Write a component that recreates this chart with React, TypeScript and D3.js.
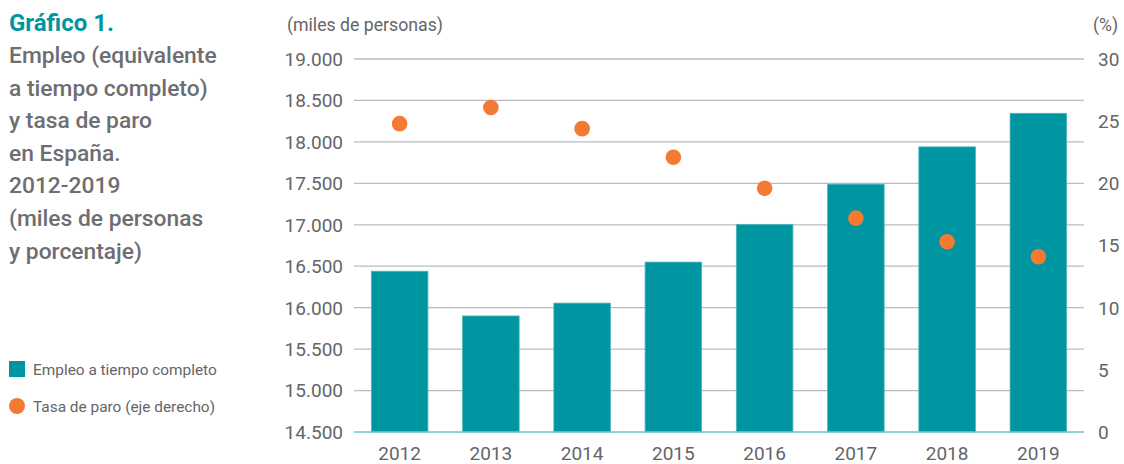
import * as d3 from 'd3'

const YEARS = ['2012', '2013', '2014', '2015', '2016', '2017', '2018', '2019']
const EMPLEO = [16440, 15900, 16055, 16550, 17005, 17490, 17940, 18345]
const TASA_PARO = [24.8, 26.1, 24.4, 22.1, 19.6, 17.2, 15.3, 14.1]
const LEFT_TICKS = [14500, 15000, 15500, 16000, 16500, 17000, 17500, 18000, 18500, 19000]
const RIGHT_TICKS = [0, 5, 10, 15, 20, 25, 30]
const TITLE_LINES = [
  'Empleo (equivalente',
  'a tiempo completo)',
  'y tasa de paro',
  'en España.',
  '2012-2019',
  '(miles de personas',
  'y porcentaje)',
]

const W = 1124
const H = 464
const PLOT = { left: 354, right: 1084, top: 59, bottom: 432 }
const TEAL = '#0096A1'
const ORANGE = '#F37A33'
const GRAY = '#646568'
const TITLE_GRAY = '#6d6e71'
const FONT = 'Roboto, "Liberation Sans", sans-serif'

const fmtLeft = (v: number) => d3.format(',')(v).replace(/,/g, '.')

export default function App() {
  const x = d3.scaleBand<string>()
    .domain(YEARS)
    .range([PLOT.left, PLOT.right])
    .paddingInner(0.38)
    .paddingOuter(0.19)
  const yL = d3.scaleLinear([14500, 19000], [PLOT.bottom, PLOT.top])
  const yR = d3.scaleLinear([0, 30], [PLOT.bottom, PLOT.top])

  return (
    <svg width={W} height={H} style={{ position: 'absolute', left: 0, top: 0, fontFamily: FONT }}>
      {/* ── Title block ── */}
      <text x={9} y={31} fill={TEAL} fontSize={24} fontWeight={700}>Gráfico 1.</text>
      {TITLE_LINES.map((t, i) => (
        <text key={t} x={9} y={63 + i * 32.6} fill={TITLE_GRAY} fontSize={22.8} fontWeight={500}>{t}</text>
      ))}

      {/* ── Legend ── */}
      <rect x={9} y={361} width={16} height={16} fill={TEAL} />
      <text x={33} y={375} fill={GRAY} fontSize={15.4}>Empleo a tiempo completo</text>
      <circle cx={17} cy={406} r={8} fill={ORANGE} />
      <text x={33} y={411.5} fill={GRAY} fontSize={15.4}>Tasa de paro (eje derecho)</text>

      {/* ── Axis titles ── */}
      <text x={287} y={31} fill={GRAY} fontSize={17.7}>(miles de personas)</text>
      <text x={1093} y={31} fill={GRAY} fontSize={17.7}>(%)</text>

      {/* ── Grid ── */}
      {LEFT_TICKS.slice(1).map(v => (
        <line key={v} x1={PLOT.left} x2={PLOT.right} y1={yL(v)} y2={yL(v)} stroke="#bcbcbc" strokeWidth={1.3} />
      ))}

      {/* ── Left axis labels ── */}
      {LEFT_TICKS.map(v => (
        <text key={v} x={343} y={yL(v)} dy="0.36em" textAnchor="end" fill={GRAY} fontSize={19}>{fmtLeft(v)}</text>
      ))}

      {/* ── Right axis labels ── */}
      {RIGHT_TICKS.map(v => (
        <text key={v} x={1098} y={yR(v)} dy="0.36em" fill={GRAY} fontSize={19}>{v}</text>
      ))}

      {/* ── Bars ── */}
      {YEARS.map((yr, i) => (
        <rect key={yr} x={x(yr)} y={yL(EMPLEO[i])} width={x.bandwidth()} height={yL(14500) - yL(EMPLEO[i])}
          fill={TEAL} stroke="#4fb6bd" strokeWidth={0.8} />
      ))}

      {/* baseline */}
      <line x1={PLOT.left} x2={PLOT.right} y1={yL(14500)} y2={yL(14500)} stroke="#6ec4c9" strokeWidth={1.6} />

      {/* ── Dots ── */}
      {YEARS.map((yr, i) => (
        <circle key={yr} cx={x(yr)! + x.bandwidth() / 2} cy={yR(TASA_PARO[i])} r={7.8} fill={ORANGE} />
      ))}

      {/* ── X labels ── */}
      {YEARS.map(yr => (
        <text key={yr} x={x(yr)! + x.bandwidth() / 2} y={459.5} textAnchor="middle" fill={GRAY} fontSize={19}>{yr}</text>
      ))}
    </svg>
  )
}
